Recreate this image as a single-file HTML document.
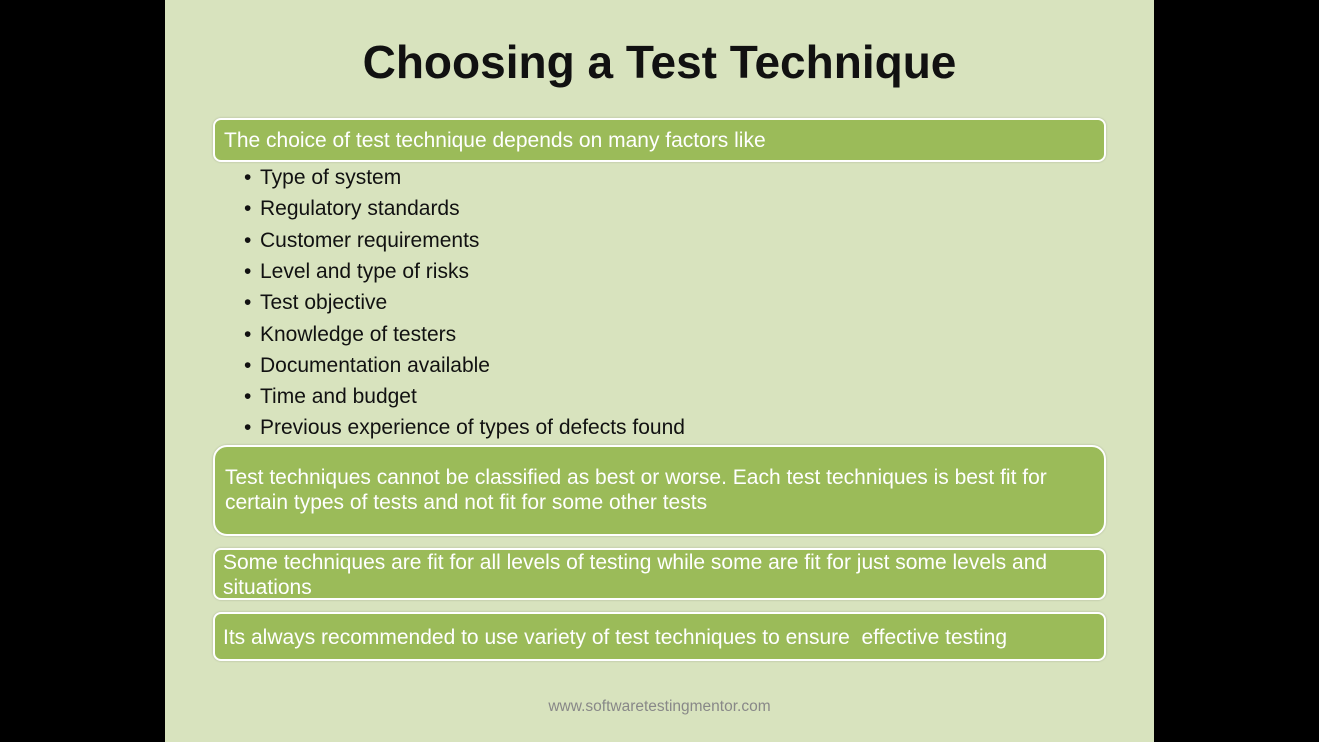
<!DOCTYPE html>
<html><head><meta charset="utf-8"><style>
body{margin:0;width:1319px;height:742px;background:#000;position:relative;overflow:hidden;font-family:"Liberation Sans",sans-serif}
#slide{position:absolute;left:165px;top:0;width:989px;height:742px;background:#d8e3be}
h1{position:absolute;left:0;width:989px;top:35px;margin:0;text-align:center;font-size:46px;font-weight:bold;color:#111}
.box{position:absolute;left:48px;width:889px;background:#9bbb59;border:2px solid #fff;border-radius:8px;color:#fff;font-size:21px;line-height:25px;white-space:nowrap;box-shadow:0 0 2px rgba(0,0,0,.2)}
.b{position:absolute;left:95px;font-size:21px;color:#111;white-space:nowrap}
.b:before{content:"•";position:absolute;left:-16px}
.foot{position:absolute;left:0;width:989px;top:698px;text-align:center;font-size:15.5px;color:#888}
</style></head><body>
<div id="slide">
<h1>Choosing a Test Technique</h1>
<div class="box" style="top:118px;height:40px"><div style="padding:8px 0 0 9px">The choice of test technique depends on many factors like</div></div>
<div class="b" style="top:166px">Type of system</div>
<div class="b" style="top:197px">Regulatory standards</div>
<div class="b" style="top:229px">Customer requirements</div>
<div class="b" style="top:260px">Level and type of risks</div>
<div class="b" style="top:291px">Test objective</div>
<div class="b" style="top:323px">Knowledge of testers</div>
<div class="b" style="top:354px">Documentation available</div>
<div class="b" style="top:385px">Time and budget</div>
<div class="b" style="top:416px">Previous experience of types of defects found</div>
<div class="box" style="top:445px;height:87px;border-radius:14px"><div style="padding:18px 0 0 10px">Test techniques cannot be classified as best or worse. Each test techniques is best fit for<br>certain types of tests and not fit for some other tests</div></div>
<div class="box" style="top:548px;height:48px"><div style="padding:0 0 0 8px">Some techniques are fit for all levels of testing while some are fit for just some levels and<br>situations</div></div>
<div class="box" style="top:612px;height:45px"><div style="padding:11px 0 0 8px">Its always recommended to use variety of test techniques to ensure&nbsp; effective testing</div></div>
<div class="foot">www.softwaretestingmentor.com</div>
</div>
</body></html>
